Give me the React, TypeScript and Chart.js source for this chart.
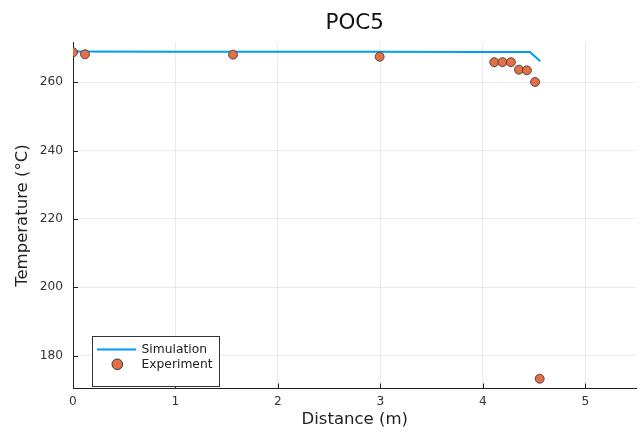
import React, { useEffect, useRef } from "react";
import { Chart, registerables } from "chart.js";

Chart.register(...registerables);

const titleText = "POC5";
const xAxisTitle = "Distance (m)";
const yAxisTitle = "Temperature (°C)";
const simulationLabel = "Simulation";
const experimentLabel = "Experiment";

const simX = [0, 1, 2, 3, 4, 4.46, 4.56];
const simY = [269.0, 268.98, 268.95, 268.92, 268.9, 268.88, 266.2];

const expX = [0, 0.117, 1.562, 2.993, 4.112, 4.192, 4.274, 4.353, 4.43, 4.51, 4.555];
const expY = [268.8, 268.2, 268.1, 267.5, 265.9, 265.9, 265.9, 263.7, 263.5, 260.1, 173.2];

const xTicks = [0, 1, 2, 3, 4, 5];
const yTicks = [180, 200, 220, 240, 260];

const X_MIN = 0;
const X_MAX = 5.5;
const Y_MIN = 170.34;
const Y_MAX = 271.6;

const BLUE = "#009AFA";
const ORANGE = "#E36F47";
const FONT = "'DejaVu Sans', sans-serif";

export default function App() {
  const ref = useRef<HTMLCanvasElement | null>(null);

  useEffect(() => {
    const canvas = ref.current;
    if (!canvas) return;

    const overlay = {
      id: "overlay",
      afterDraw(chart: any) {
        const { ctx, chartArea } = chart;
        const xs = chart.scales.x;
        const ys = chart.scales.y;
        ctx.save();
        // inward tick marks
        ctx.strokeStyle = "#222";
        ctx.lineWidth = 1;
        ctx.beginPath();
        for (const v of yTicks) {
          const py = Math.round(ys.getPixelForValue(v)) + 0.5;
          ctx.moveTo(chartArea.left, py);
          ctx.lineTo(chartArea.left + 5, py);
        }
        for (const v of xTicks) {
          const px = Math.round(xs.getPixelForValue(v)) + 0.5;
          ctx.moveTo(px, chartArea.bottom);
          ctx.lineTo(px, chartArea.bottom - 5);
        }
        ctx.stroke();

        // title
        ctx.fillStyle = "#111";
        ctx.font = `21.5px ${FONT}`;
        ctx.textAlign = "center";
        ctx.textBaseline = "alphabetic";
        ctx.fillText(titleText, (chartArea.left + chartArea.right) / 2, 29);

        // legend
        const bx = 92.5, by = 336.5, bw = 127, bh = 50;
        ctx.fillStyle = "#fff";
        ctx.fillRect(bx, by, bw, bh);
        ctx.strokeStyle = "#333";
        ctx.lineWidth = 1;
        ctx.strokeRect(bx, by, bw, bh);

        ctx.strokeStyle = BLUE;
        ctx.lineWidth = 2;
        ctx.beginPath();
        ctx.moveTo(97, 349.5);
        ctx.lineTo(136, 349.5);
        ctx.stroke();

        ctx.fillStyle = ORANGE;
        ctx.strokeStyle = "#333";
        ctx.lineWidth = 1;
        ctx.beginPath();
        ctx.arc(117.3, 364.3, 5.3, 0, Math.PI * 2);
        ctx.fill();
        ctx.stroke();

        ctx.fillStyle = "#222";
        ctx.font = `12.3px ${FONT}`;
        ctx.textAlign = "left";
        ctx.textBaseline = "middle";
        ctx.fillText(simulationLabel, 141.5, 349.5);
        ctx.fillText(experimentLabel, 141.5, 364.5);
        ctx.restore();
      },
    };

    const chart = new Chart(canvas, {
      type: "scatter",
      data: {
        datasets: [
          {
            label: experimentLabel,
            data: expX.map((x, i) => ({ x, y: expY[i] })),
            backgroundColor: ORANGE,
            borderColor: "#333",
            borderWidth: 0.8,
            pointRadius: 4.5,
            showLine: false,
            clip: { left: 0, right: 0, top: 0, bottom: 0 },
            order: 1,
          } as any,
          {
            label: simulationLabel,
            data: simX.map((x, i) => ({ x, y: simY[i] })),
            borderColor: BLUE,
            backgroundColor: BLUE,
            borderWidth: 2,
            pointRadius: 0,
            showLine: true,
            order: 2,
          } as any,
        ],
      },
      options: {
        animation: false,
        responsive: false,
        events: [],
        layout: { padding: { left: 0, right: 7.5, top: 42.7, bottom: 0 } },
        plugins: {
          legend: { display: false },
          title: { display: false },
          tooltip: { enabled: false },
        },
        scales: {
          x: {
            type: "linear",
            min: X_MIN,
            max: X_MAX,
            afterFit: (s: any) => {
              s.height = 43.5;
            },
            afterBuildTicks: (s: any) => {
              s.ticks = xTicks.map((v) => ({ value: v }));
            },
            ticks: {
              padding: 6,
              color: "#333",
              font: { family: FONT, size: 12.2 },
              maxRotation: 0,
              autoSkip: false,
            },
            grid: { color: "rgba(0,0,0,0.08)", drawTicks: false, lineWidth: 1 },
            border: { display: true, color: "#222", width: 1 },
            title: {
              display: true,
              text: xAxisTitle,
              color: "#222",
              font: { family: FONT, size: 16.5 },
              padding: { top: 0, bottom: 2.4 },
            },
          },
          y: {
            type: "linear",
            min: Y_MIN,
            max: Y_MAX,
            afterFit: (s: any) => {
              s.width = 73;
            },
            afterBuildTicks: (s: any) => {
              s.ticks = yTicks.map((v) => ({ value: v }));
            },
            ticks: {
              padding: 10,
              color: "#333",
              font: { family: FONT, size: 12.2 },
              autoSkip: false,
            },
            grid: { color: "rgba(0,0,0,0.08)", drawTicks: false, lineWidth: 1 },
            border: { display: true, color: "#222", width: 1 },
            title: {
              display: true,
              text: yAxisTitle,
              color: "#222",
              font: { family: FONT, size: 16.5 },
              padding: { top: 12.6, bottom: 0 },
            },
          },
        },
      } as any,
      plugins: [overlay],
    });

    return () => chart.destroy();
  }, []);

  return (
    <div style={{ position: "absolute", left: 0, top: 0, width: 644, height: 432, background: "#fff" }}>
      <canvas ref={ref} width={644} height={432} style={{ width: 644, height: 432, display: "block" }} />
    </div>
  );
}
